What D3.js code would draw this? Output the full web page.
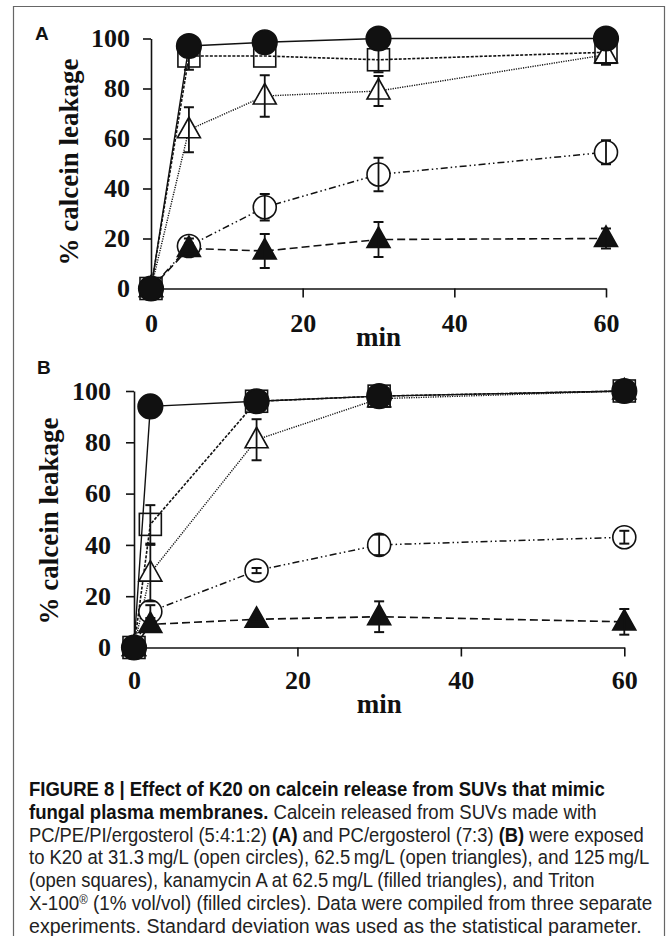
<!DOCTYPE html>
<html>
<head>
<meta charset="utf-8">
<script src="https://cdn.jsdelivr.net/npm/d3@7"></script>
<style>
html,body{margin:0;padding:0;background:#fff;}
svg{display:block;}
</style>
</head>
<body>
<svg id="fig" width="671" height="936"></svg>
<script>
// ---------------- data ----------------
const timeA = [0, 5, 15, 30, 60];
const timeB = [0, 2, 15, 30, 60];
const yTicks = [0, 20, 40, 60, 80, 100];
const xTicks = [0, 20, 40, 60];

// Panel A: PC/PE/PI/ergosterol
const openCirclesA     = [0, 17, 32.5, 45.6, 54.5];
const openCirclesAErr  = [0, 3, 5.3, 6.7, 4.8];
const filledTrianglesA    = [0, 16, 15, 19.6, 20];
const filledTrianglesAErr = [0, 2, 6.8, 7, 4];
const openSquaresA     = [0, 93, 93, 91.5, 94.5];
const openSquaresAErr  = [0, 5.5, 0, 5, 0];
const openTrianglesA    = [0, 63.5, 77, 79, 93.5];
const openTrianglesAErr = [0, 9, 8.3, 6, 4];
const filledCirclesA    = [0, 97, 98.5, 100, 100];
const filledCirclesAErr = [0, 0, 0, 0, 0];

// Panel B: PC/ergosterol
const openCirclesB     = [0, 14, 30, 40, 43];
const openCirclesBErr  = [0, 2.5, 1, 4, 2.5];
const filledTrianglesB    = [0, 9, 11, 12, 10];
const filledTrianglesBErr = [0, 0, 1, 6, 5];
const openSquaresB     = [0, 48, 96, 98, 100];
const openSquaresBErr  = [0, 7.5, 0, 0, 0];
const openTrianglesB    = [0, 29, 81, 97, 100];
const openTrianglesBErr = [0, 11, 8, 0, 0];
const filledCirclesB    = [0, 94, 96, 98, 100];
const filledCirclesBErr = [0, 0, 0, 0, 0];

const captionLines = [
  [["FIGURE 8 | Effect of K20 on calcein release from SUVs that mimic", "b"]],
  [["fungal plasma membranes.", "b"], [" Calcein released from SUVs made with", ""]],
  [["PC/PE/PI/ergosterol (5:4:1:2) ", ""], ["(A)", "b"], [" and PC/ergosterol (7:3) ", ""], ["(B)", "b"], [" were exposed", ""]],
  [["to K20 at 31.3\u2009mg/L (open circles), 62.5\u2009mg/L (open triangles), and 125\u2009mg/L", ""]],
  [["(open squares), kanamycin A at 62.5\u2009mg/L (filled triangles), and Triton", ""]],
  [["X-100", ""], ["\u00AE", "sup"], [" (1% vol/vol) (filled circles). Data were compiled from three separate", ""]],
  [["experiments. Standard deviation was used as the statistical parameter.", ""]]
];

// ---------------- styles ----------------
const serif = "'Liberation Serif','Times New Roman',serif";
const sans = "'Liberation Sans',Arial,sans-serif";
const narrow = "'Liberation Sans Narrow','Liberation Sans',Arial,sans-serif";
const FS = 26;

const svg = d3.select("#fig");

// frame
svg.append("path")
  .attr("d", "M13.5,940 V6.5 H664.5 V940")
  .attr("fill", "none").attr("stroke", "#666").attr("stroke-width", 1.2);

function panel(cfg) {
  const x = d3.scaleLinear().domain([0, 60]).range(cfg.xr);
  const y = d3.scaleLinear().domain([0, 100]).range(cfg.yr);
  const g = svg.append("g");

  // axes
  const ya = g.append("g").attr("transform", `translate(${cfg.xr[0]},0)`)
    .call(d3.axisLeft(y).tickValues(yTicks).tickSize(8).tickSizeOuter(0).tickPadding(cfg.yPad));
  const xa = g.append("g").attr("transform", `translate(0,${cfg.yr[0]})`)
    .call(d3.axisBottom(x).tickValues(xTicks).tickSize(9).tickSizeOuter(0).tickPadding(cfg.xPad));
  [ya, xa].forEach(a => {
    a.selectAll("path,line").attr("stroke", "#111").attr("stroke-width", 1.6);
    a.selectAll("text").attr("font-family", serif).attr("font-weight", "bold")
      .attr("font-size", FS).attr("fill", "#111");
  });

  // titles
  g.append("text").attr("transform", `translate(${cfg.ytx},${cfg.yty}) rotate(-90)`)
    .attr("text-anchor", "middle").attr("font-family", serif).attr("font-weight", "bold")
    .attr("font-size", FS + 1).attr("fill", "#111").text("% calcein leakage");
  g.append("text").attr("x", (cfg.xr[0] + cfg.xr[1]) / 2).attr("y", cfg.minY)
    .attr("text-anchor", "middle").attr("font-family", serif).attr("font-weight", "bold")
    .attr("font-size", FS + 1).attr("fill", "#111").text("min");
  g.append("text").attr("x", cfg.lx).attr("y", cfg.ly)
    .attr("font-family", sans).attr("font-weight", "bold").attr("font-size", 19)
    .attr("fill", "#111").text(cfg.letter);

  const series = cfg.series;
  const t = cfg.time;
  const lineGen = d3.line().x((d, i) => x(t[i])).y(d => y(d));

  // lines
  series.forEach(s => {
    g.append("path").attr("d", lineGen(s.v)).attr("fill", "none")
      .attr("stroke", "#111").attr("stroke-width", s.lw)
      .attr("stroke-dasharray", s.dash);
  });

  // markers and error bars
  series.forEach(s => {
    const mg = g.append("g");
    s.v.forEach((v, i) => {
      const cx = x(t[i]), cy = y(v);
      const fill = s.filled ? "#111" : "#fff";
      if (s.shape === "circle") {
        mg.append("circle").attr("cx", cx).attr("cy", cy).attr("r", s.filled ? 12.3 : 11.5)
          .attr("fill", fill).attr("stroke", "#111").attr("stroke-width", 1.6);
      } else if (s.shape === "square") {
        mg.append("rect").attr("x", cx - 11).attr("y", cy - 11).attr("width", 22).attr("height", 22)
          .attr("fill", s.filled ? "#111" : "none").attr("stroke", "#111").attr("stroke-width", 1.6);
      } else {
        mg.append("path").attr("d", `M${cx},${cy - 12.5} L${cx + 11.5},${cy + 8} L${cx - 11.5},${cy + 8} Z`)
          .attr("fill", fill).attr("stroke", "#111").attr("stroke-width", 1.6);
      }
      const e = s.e[i];
      if (e > 0) {
        const y1 = y(v + e), y2 = y(v - e);
        mg.append("line").attr("x1", cx).attr("x2", cx).attr("y1", y1).attr("y2", y2)
          .attr("stroke", "#111").attr("stroke-width", 1.8);
        [y1, y2].forEach(yy => mg.append("line").attr("x1", cx - 5).attr("x2", cx + 5)
          .attr("y1", yy).attr("y2", yy).attr("stroke", "#111").attr("stroke-width", 2));
      }
    });
  });
}

const dashCircle = "7,3,1.5,3,1.5,3";
const dashFT = "8,4";
const dashSq = "3,1.5";
const dashOT = "1.2,1.2";

panel({
  xr: [151, 606], yr: [288.5, 38.5], yPad: 13, xPad: 16,
  ytx: 78, yty: 162, minY: 346, lx: 35, ly: 40, letter: "A", time: timeA,
  series: [
    { v: openCirclesA, e: openCirclesAErr, shape: "circle", filled: false, dash: dashCircle, lw: 1.5 },
    { v: filledTrianglesA, e: filledTrianglesAErr, shape: "triangle", filled: true, dash: dashFT, lw: 1.6 },
    { v: openSquaresA, e: openSquaresAErr, shape: "square", filled: false, dash: dashSq, lw: 1.6 },
    { v: openTrianglesA, e: openTrianglesAErr, shape: "triangle", filled: false, dash: dashOT, lw: 1.4 },
    { v: filledCirclesA, e: filledCirclesAErr, shape: "circle", filled: true, dash: null, lw: 1.4 }
  ]
});

panel({
  xr: [134, 624.3], yr: [647.5, 391], yPad: 15, xPad: 14,
  ytx: 58, yty: 521, minY: 713, lx: 37, ly: 374, letter: "B", time: timeB,
  series: [
    { v: openCirclesB, e: openCirclesBErr, shape: "circle", filled: false, dash: dashCircle, lw: 1.5 },
    { v: filledTrianglesB, e: filledTrianglesBErr, shape: "triangle", filled: true, dash: dashFT, lw: 1.6 },
    { v: openSquaresB, e: openSquaresBErr, shape: "square", filled: false, dash: dashSq, lw: 1.6 },
    { v: openTrianglesB, e: openTrianglesBErr, shape: "triangle", filled: false, dash: dashOT, lw: 1.4 },
    { v: filledCirclesB, e: filledCirclesBErr, shape: "circle", filled: true, dash: null, lw: 1.4 }
  ]
});

// caption
const capWidths = [576, 568, 615, 620.6, 566, 623.5, 613];
const capX = 29, capY0 = 796, capDy = 22.8;
captionLines.forEach((segs, li) => {
  const tx = svg.append("text").attr("x", 0).attr("y", 0)
    .attr("font-family", narrow).attr("font-size", 19.5).attr("fill", "#222");
  segs.forEach(([txt, st]) => {
    const ts = tx.append("tspan").text(txt);
    if (st === "b") ts.attr("font-weight", "bold").attr("fill", "#111");
    if (st === "sup") ts.attr("font-size", 12).attr("baseline-shift", "super");
  });
  const w = tx.node().getComputedTextLength();
  const k = w > 0 ? capWidths[li] / w : 1;
  tx.attr("transform", `translate(${capX},${capY0 + li * capDy}) scale(${k},1)`);
});
</script>
</body>
</html>
